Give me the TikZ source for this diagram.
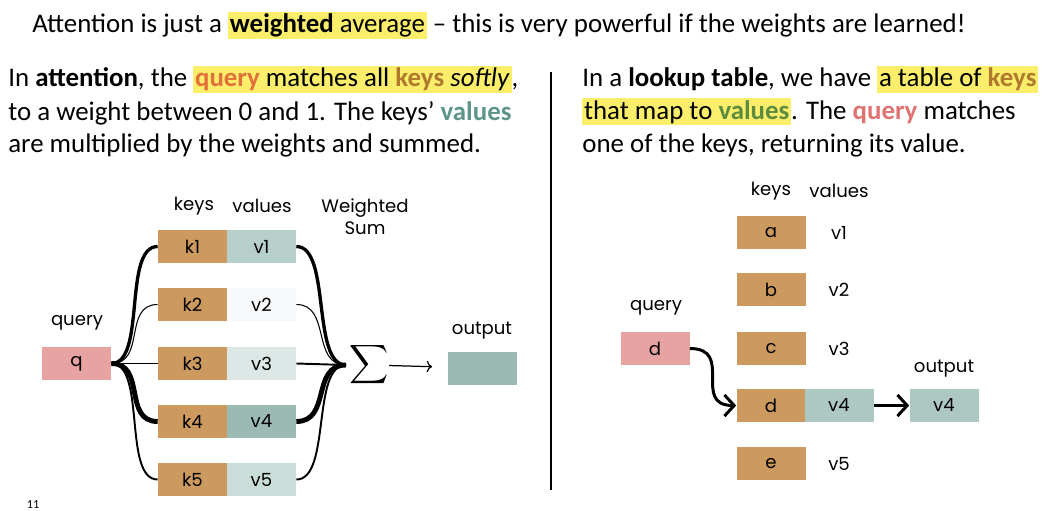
\documentclass[tikz,border=0pt]{standalone}
\usepackage{fontspec}
\usepackage{graphicx}
\setmainfont{Carlito}
\newfontfamily\diagfont{Poppins}
\usetikzlibrary{arrows.meta}

\definecolor{keycol}{HTML}{CC9A5E}
\definecolor{querycol}{HTML}{E6A3A1}
\definecolor{vone}{HTML}{B6CFCA}
\definecolor{vtwo}{HTML}{F8F9FB}
\definecolor{vthree}{HTML}{DDE8E6}
\definecolor{vfour}{HTML}{9ABAB3}
\definecolor{vfive}{HTML}{C9DDD9}
\definecolor{vlook}{HTML}{ADC8C3}
\definecolor{hlyellow}{HTML}{FBEE6A}
\definecolor{qorange}{HTML}{E2703A}
\definecolor{kbrown}{HTML}{B07A2E}
\definecolor{vteal}{HTML}{5E958A}
\definecolor{vgreen}{HTML}{5E8C3E}
\definecolor{qred}{HTML}{E07272}

\newcommand{\hl}[1]{\begingroup\setlength{\fboxsep}{1pt}\colorbox{hlyellow}{\vphantom{Ayg}#1}\endgroup}

\tikzset{
  para/.style={anchor=base west, inner sep=0pt, font=\fontsize{15.3}{18}\selectfont},
  lbl/.style={inner sep=0pt, font=\diagfont\fontsize{10.3}{12.5}\selectfont},
  cell/.style={lbl, minimum width=1.38cm, minimum height=0.66cm},
  keybox/.style={cell, fill=keycol},
  valbox/.style={cell, fill=#1},
  wt/.style={line width=#1},
  look/.style={line width=1.7pt, -{Straight Barb[length=5.5pt,width=12pt]}}
}

\begin{document}
\begin{tikzpicture}[x=0.02cm,y=-0.02cm]
\useasboundingbox (0,0) rectangle (1047,510);
\node[para] (title) at (32,33) {Attention is just a \hl{\textbf{weighted} average} – this is very powerful if the weights are learned!};
%%%%%%%%%%%%%%% text
\node[para] (la) at (8,87) {In \textbf{attention}, the \hl{\textcolor{qorange}{\textbf{query}} matches all \textcolor{kbrown}{\textbf{keys}} \textit{softly}},};
\node[para] (lb) at (8,120) {to a weight between 0 and 1. The keys’ \textcolor{vteal}{\textbf{values}}};
\node[para] (lc) at (8,152) {are multiplied by the weights and summed.};
\node[para] (ra) at (582,87) {In a \textbf{lookup table}, we have \hl{a table of \textcolor{kbrown}{\textbf{keys}}}};
\node[para] (rb) at (582,119) {\hl{that map to \textcolor{vgreen}{\textbf{values}}}. The \textcolor{qred}{\textbf{query}} matches};
\node[para] (rc) at (582,152) {one of the keys, returning its value.};
\node[inner sep=0pt, font=\fontsize{7}{8}\selectfont] (page) at (33,505) {11};
\coordinate (divtop) at (551,72);
\coordinate (divbot) at (551,490);
\draw[line width=1pt] (divtop) -- (divbot);
%%%%%%%%%%%%%%% attention
\node[lbl] (keys) at (194,206) {keys};
\node[lbl] (values) at (262,206) {values};
\node[lbl, align=center] (wsum) at (365,217) {Weighted\\Sum};
\node[lbl] (qlbl) at (77,323) {query};
\node[cell, fill=querycol] (q) at (76.5,363.5) {q};
\node[keybox] (k1) at (192.5,246.5) {k1};
\node[keybox] (k2) at (192.5,304.5) {k2};
\node[keybox] (k3) at (192.5,363.5) {k3};
\node[keybox] (k4) at (192.5,421.5) {k4};
\node[keybox] (k5) at (192.5,479.5) {k5};
\node[valbox=vone] (v1) at (261.5,246.5) {v1};
\node[valbox=vtwo] (v2) at (261.5,304.5) {v2};
\node[valbox=vthree] (v3) at (261.5,363.5) {v3};
\node[valbox=vfour] (v4) at (261.5,421.5) {v4};
\node[valbox=vfive] (v5) at (261.5,479.5) {v5};
\coordinate (join) at (346,365);
\node[inner sep=0pt] (sum) at (369,365) {\scalebox{1.55}{$\displaystyle\sum$}};
\node[lbl] (olbl) at (482,331) {output};
\node[cell, fill=vfour] (out) at (482,368) {};
\draw[wt=1.9pt] (q.east) .. controls +(35,0) and +(-35,0) .. (k1.west);
\draw[wt=0.6pt] (q.east) .. controls +(35,0) and +(-35,0) .. (k2.west);
\draw[wt=1.1pt] (q.east) -- (k3.west);
\draw[wt=2.8pt] (q.east) .. controls +(35,0) and +(-35,0) .. (k4.west);
\draw[wt=1.1pt] (q.east) .. controls +(35,0) and +(-35,0) .. (k5.west);
\draw[wt=1.9pt] (v1.east) .. controls +(35,0) and +(-35,0) .. (join);
\draw[wt=0.6pt] (v2.east) .. controls +(35,0) and +(-35,0) .. (join);
\draw[wt=1.1pt] (v3.east) -- (join);
\draw[wt=2.8pt] (v4.east) .. controls +(35,0) and +(-35,0) .. (join);
\draw[wt=1.1pt] (v5.east) .. controls +(35,0) and +(-35,0) .. (join);
\draw[->, wt=0.7pt, shorten >=0.3cm] (sum) -- (out);
%%%%%%%%%%%%%%% lookup table
\node[lbl] (rkeys) at (771,191) {keys};
\node[lbl] (rvalues) at (839,191) {values};
\node[lbl] (rqlbl) at (656,308) {query};
\node[cell, fill=querycol] (qd) at (655,348.5) {d};
\node[keybox] (ka) at (771,232.5) {a};
\node[keybox] (kb) at (771,289.5) {b};
\node[keybox] (kc) at (771,348.5) {c};
\node[keybox] (kd) at (771,405.5) {d};
\node[keybox] (ke) at (771,463.5) {e};
\node[cell] (va) at (839,232.5) {v1};
\node[cell] (vb) at (839,289.5) {v2};
\node[cell] (vc) at (839,348.5) {v3};
\node[valbox=vlook] (vd) at (839,405.5) {v4};
\node[cell] (ve) at (839,463.5) {v5};
\node[lbl] (rolbl) at (944,369) {output};
\node[valbox=vlook] (rout) at (944,405.5) {v4};
\draw[look] (qd.east) .. controls +(45,0) and +(-45,0) .. (kd.west);
\draw[look] (vd.east) -- (rout.west);
\end{tikzpicture}
\end{document}
